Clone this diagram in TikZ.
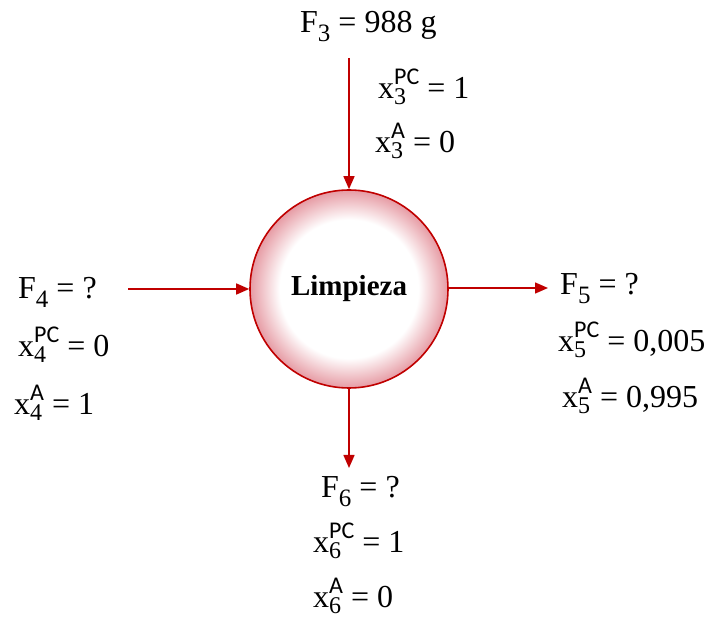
\documentclass[tikz,border=0pt]{standalone}
\usepackage{fontspec}
\setmainfont{Liberation Serif}
\newfontfamily\scf{Carlito}
\usetikzlibrary{arrows.meta}
\definecolor{dred}{RGB}{192,0,0}
\definecolor{ringc}{RGB}{230,155,164}
\pgfdeclareradialshading{ringshade}{\pgfpoint{0bp}{0bp}}{color(0bp)=(white); color(17.5bp)=(white); color(25bp)=(ringc); color(50bp)=(ringc)}
\newcommand\Fv[1]{F\raisebox{-9pt}[0pt][0pt]{\fontsize{25}{25}\selectfont #1}}
\newcommand\xv[2]{x{\fontsize{24}{24}\selectfont\setbox0\hbox{\scf #1}\setbox2\hbox{#2}\ifdim\wd0>\wd2 \dimen0=\wd0 \else\dimen0=\wd2\fi\rlap{\raisebox{14pt}[0pt][0pt]{\scf #1}}\rlap{\raisebox{-6pt}[0pt][0pt]{#2}}\hspace{\dimen0}}}
\tikzset{
  lbl/.style={anchor=base west, inner sep=0pt, font=\fontsize{32}{32}\selectfont},
  flow/.style={draw=dred, line width=1.5pt, -{Triangle[length=13pt,width=11pt]}},
}
\begin{document}
\begin{tikzpicture}[x=1pt,y=-1pt]
\useasboundingbox (0,0) rectangle (713,620);
\node[circle, minimum size=198pt, inner sep=0pt, draw=dred, line width=1.6pt, shading=ringshade,
  font=\fontsize{29}{29}\selectfont\bfseries] (c) at (349,289) {Limpieza};
\coordinate (s3) at (349,58);
\coordinate (s4) at (128,289);
\coordinate (e5) at (548,288);
\coordinate (e6) at (349,468);
\draw[flow] (s3) -- (c.north);
\draw[flow] (s4) -- (c.west);
\draw[flow] (c.east |- e5) -- (e5);
\draw[flow] (c.south) -- (e6);
\node[lbl] (f3) at (300,33) {\Fv{3} = 988 g};
\node[lbl] (x3p) at (378,99) {\xv{PC}{3} = 1};
\node[lbl] (x3a) at (375,153) {\xv{A}{3} = 0};
\node[lbl] (f4) at (18,299) {\Fv{4} = ?};
\node[lbl] (x4p) at (18,357) {\xv{PC}{4} = 0};
\node[lbl] (x4a) at (14,415) {\xv{A}{4} = 1};
\node[lbl] (f5) at (560,295) {\Fv{5} = ?};
\node[lbl] (x5p) at (558,352) {\xv{PC}{5} = 0,005};
\node[lbl] (x5a) at (562,408) {\xv{A}{5} = 0,995};
\node[lbl] (f6) at (321,498) {\Fv{6} = ?};
\node[lbl] (x6p) at (313,552) {\xv{PC}{6} = 1};
\node[lbl] (x6a) at (313,607) {\xv{A}{6} = 0};
\end{tikzpicture}
\end{document}
